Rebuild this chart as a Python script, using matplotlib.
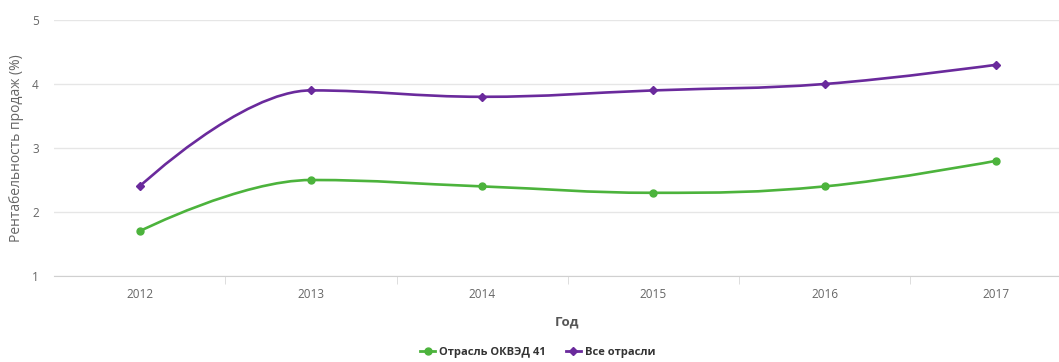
import matplotlib.pyplot as plt
import numpy as np
from matplotlib.path import Path
from matplotlib.patches import PathPatch
from matplotlib.lines import Line2D

plt.rcParams['font.family'] = ['Open Sans', 'DejaVu Sans']

years = ['2012', '2013', '2014', '2015', '2016', '2017']
okved41 = [1.7, 2.5, 2.4, 2.3, 2.4, 2.8]
all_branches = [2.4, 3.9, 3.8, 3.9, 4.0, 4.3]

green = '#4cb33c'
purple = '#6a2a9c'


def spline_path(xs, ys, smoothing=1.5):
    # сглаживание как у Highcharts spline
    n = len(xs)
    left = [(x, y) for x, y in zip(xs, ys)]
    right = [(x, y) for x, y in zip(xs, ys)]
    denom = smoothing + 1
    for i in range(1, n - 1):
        px, py = xs[i], ys[i]
        lx, ly = xs[i - 1], ys[i - 1]
        nx, ny = xs[i + 1], ys[i + 1]
        lcx = (smoothing * px + lx) / denom
        lcy = (smoothing * py + ly) / denom
        rcx = (smoothing * px + nx) / denom
        rcy = (smoothing * py + ny) / denom
        corr = 0
        if rcx != lcx:
            corr = (rcy - lcy) * (rcx - px) / (rcx - lcx) + py - rcy
        lcy += corr
        rcy += corr
        if lcy > ly and lcy > py:
            lcy = max(ly, py)
            rcy = 2 * py - lcy
        elif lcy < ly and lcy < py:
            lcy = min(ly, py)
            rcy = 2 * py - lcy
        if rcy > ny and rcy > py:
            rcy = max(ny, py)
            lcy = 2 * py - rcy
        elif rcy < ny and rcy < py:
            rcy = min(ny, py)
            lcy = 2 * py - rcy
        left[i] = (lcx, lcy)
        right[i] = (rcx, rcy)
    verts = [(xs[0], ys[0])]
    codes = [Path.MOVETO]
    for i in range(1, n):
        verts += [right[i - 1], left[i], (xs[i], ys[i])]
        codes += [Path.CURVE4] * 3
    return Path(verts, codes)


W, H = 1059, 362
fig = plt.figure(figsize=(W / 100, H / 100), dpi=100)
ax = fig.add_axes([54 / W, 86 / H, (W - 54) / W, 256 / H])

x = np.arange(len(years))
for vals, col, mk, ms in [(okved41, green, 'o', 5), (all_branches, purple, 'D', 4)]:
    ax.add_patch(PathPatch(spline_path(x, vals), fc='none', ec=col, lw=1.9,
                           zorder=3, capstyle='round', joinstyle='round'))
    ax.plot(x, vals, ls='none', marker=mk, ms=ms, color=col, zorder=4)

ax.set_xlim(-0.5, (W - 140) / 171.2)
ax.set_ylim(1, 5)
ax.set_yticks([1, 2, 3, 4, 5])
ax.set_xticks(x)
ax.set_xticklabels(years)
ax.set_xticks(x[:-1] + 0.5, minor=True)
ax.grid(axis='y', color='#e6e6e6', lw=1)
ax.set_axisbelow(True)
for s in ['top', 'right', 'left']:
    ax.spines[s].set_visible(False)
ax.spines['bottom'].set_color('#d0d0d0')
ax.tick_params(axis='x', which='major', length=0, pad=9, labelsize=8.5, labelcolor='#666666')
ax.tick_params(axis='x', which='minor', length=6, color='#d8d8d8')
ax.tick_params(axis='y', length=0, pad=11, labelsize=8.5, labelcolor='#666666')

ax.set_ylabel('Рентабельность продаж (%)', fontsize=10, color='#666666', labelpad=6)
fig.text(567 / W, 1 - 322 / H, 'Год', ha='center', va='center',
         fontsize=9.5, color='#555555', fontweight='bold')

handles = [
    Line2D([], [], color=green, lw=2, marker='o', ms=5),
    Line2D([], [], color=purple, lw=2, marker='D', ms=4),
]
fig.legend(handles, ['Отрасль ОКВЭД 41', 'Все отрасли'], loc='center',
           bbox_to_anchor=(538 / W, 1 - 352 / H), ncol=2, frameon=False,
           handlelength=1.3, handletextpad=0.4, columnspacing=1.8,
           prop={'weight': 'bold', 'size': 8})
for t in fig.legends[0].get_texts():
    t.set_color('#333333')

fig.savefig('out.png', dpi=100, facecolor='white')
